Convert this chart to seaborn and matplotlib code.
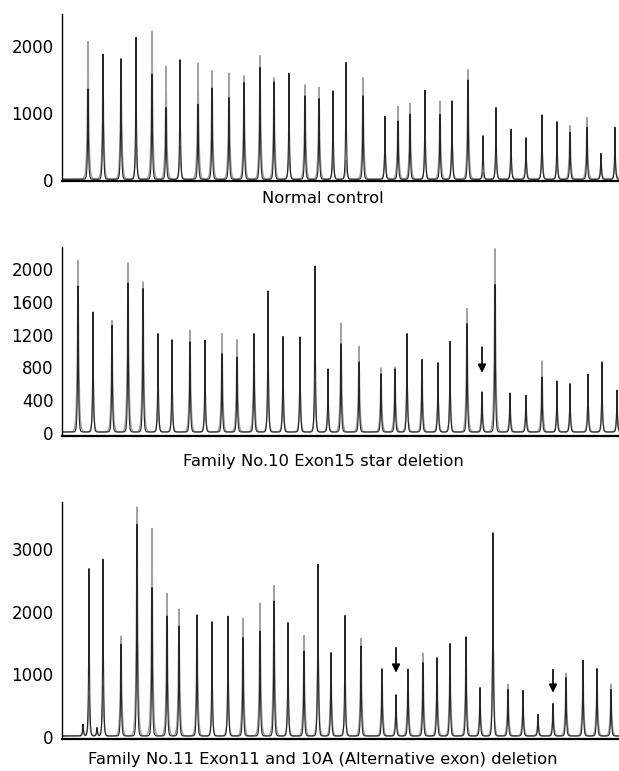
import numpy as np
import pandas as pd
import matplotlib
matplotlib.use("Agg")
import matplotlib.pyplot as plt
import seaborn as sns

# peak positions (size axis, arbitrary units) and peak heights for both traces
pos_normal = [88, 103, 121, 136, 152, 166, 180, 198, 212, 229, 244, 260, 274, 289, 305, 319,
              333, 346, 363, 385, 398, 410, 425, 440, 452, 468, 483, 496, 511, 526, 542, 557,
              570, 587, 601, 615]
black_normal = [1350, 1870, 1800, 2120, 1570, 1070, 1785, 1120, 1360, 1220, 1445, 1670, 1455, 1585, 1245, 1205,
                1320, 1745, 1245, 940, 870, 970, 1330, 970, 1170, 1480, 650, 1070, 750, 620, 960, 860,
                700, 775, 385, 775]
grey_normal = [2055, 1580, 1780, 700, 2210, 1685, 500, 1735, 1620, 1585, 1545, 1845, 1515, 500, 1410, 1370,
               400, 280, 1515, 475, 1085, 1135, 600, 1165, 720, 1635, 100, 425, 350, 375, 475, 300,
               800, 920, 300, 350]

pos_fam10 = [78, 93, 112, 128, 143, 158, 172, 190, 205, 222, 237, 254, 268, 283, 300, 315,
             328, 341, 359, 381, 395, 407, 422, 438, 450, 467, 482, 495, 510, 526, 542, 557,
             570, 588, 602, 617]
black_fam10 = [1780, 1463, 1300, 1817, 1750, 1200, 1125, 1100, 1120, 955, 915, 1200, 1720, 1165, 1160, 2025,
               770, 1077, 855, 710, 770, 1200, 885, 845, 1105, 1320, 490, 1800, 475, 447, 670, 622,
               590, 705, 855, 510]
grey_fam10 = [2090, 570, 1360, 2060, 1830, 450, 365, 1240, 400, 1200, 1125, 1100, 690, 510, 570, 590,
              325, 1330, 1045, 780, 790, 710, 855, 530, 530, 1505, 470, 2235, 405, 385, 865, 325,
              325, 405, 405, 325]

pos_fam11 = [83, 89, 97, 103, 121, 137, 152, 167, 179, 197, 212, 228, 243, 260, 274, 288, 304,
             318, 331, 345, 361, 382, 396, 408, 423, 437, 450, 466, 480, 493, 508, 523, 538,
             553, 566, 583, 597, 611]
black_fam11 = [190, 2680, 135, 2830, 1470, 3390, 2375, 1920, 1760, 1940, 1830, 1920, 1575, 1680, 2160, 1815, 1360,
               2750, 1335, 1930, 1440, 1070, 660, 1070, 1175, 1255, 1480, 1590, 775, 3255, 745, 730, 345,
               520, 935, 1215, 1080, 745]
grey_fam11 = [150, 640, 120, 800, 1600, 3667, 3325, 2280, 2030, 1900, 590, 900, 1880, 2125, 2410, 720, 1610,
              1630, 1100, 695, 1560, 1085, 535, 1015, 1320, 1120, 1280, 1495, 695, 1840, 830, 590, 295,
              500, 1005, 1070, 1015, 830]

# deletion arrows: x position, tail value, tip value
arrows_fam10 = [(482, 1080, 700)]
arrows_fam11 = [(396, 1470, 980), (553, 1117, 660)]

panels = [
    ("Normal control", pos_normal, black_normal, grey_normal, [], (-15, 2480),
     [0, 1000, 2000], 500, 0.743),
    ("Family No.10 Exon15 star deletion", pos_fam10, black_fam10, grey_fam10, arrows_fam10, (-37, 2268),
     [0, 400, 800, 1200, 1600, 2000], 200, 0.402),
    ("Family No.11 Exon11 and 10A (Alternative exon) deletion", pos_fam11, black_fam11, grey_fam11,
     arrows_fam11, (-37, 3760), [0, 1000, 2000, 3000], 500, 0.0143),
]
boxes = [[0.1002, 0.7652, 0.8998, 0.2166],
         [0.1002, 0.4345, 0.8998, 0.2451],
         [0.1002, 0.0415, 0.8998, 0.3074]]

sns.set_style("white")
plt.rcParams['font.family'] = ['DejaVu Sans']
plt.rcParams['text.color'] = 'black'
plt.rcParams['ytick.color'] = 'black'

fig = plt.figure(figsize=(6.19, 7.71), dpi=100)
xs = np.arange(62, 620, 0.05)


def trace(pos, heights, width, base):
    # sharp-topped peaks with wider skirts, like an electropherogram
    y = np.full_like(xs, base)
    for p, h in zip(pos, heights):
        y = y + h * np.exp(-np.abs(xs - p) / width)
    return y


for (label, pos, blk, gry, arrows, ylim, yticks, minor, ty), box in zip(panels, boxes):
    ax = fig.add_axes(box)
    df = pd.DataFrame({"x": xs,
                       "grey": trace(pos, gry, 0.9, 12),
                       "black": trace(pos, blk, 0.55, 12)})
    sns.lineplot(data=df, x="x", y="grey", ax=ax, color="#a2a2a2", lw=1.1, estimator=None)
    sns.lineplot(data=df, x="x", y="black", ax=ax, color="#262626", lw=0.8, estimator=None)
    for xa, tail, tip in arrows:
        ax.annotate("", xy=(xa, tip), xytext=(xa, tail),
                    arrowprops=dict(arrowstyle="-|>", color="black", lw=1.2, mutation_scale=12))
    ax.set_xlim(62, 619)
    ax.set_ylim(*ylim)
    ax.set_yticks(yticks)
    ax.set_yticks(np.arange(0, ylim[1], minor), minor=True)
    ax.set_yticklabels([str(t) for t in yticks], fontsize=12, color="black")
    ax.set_xticks(pos if label != panels[2][0] else [])
    ax.set_xticklabels([])
    ax.tick_params(axis="y", which="both", direction="in", length=5, width=1, color="black", pad=6)
    ax.tick_params(axis="x", direction="out", length=3, width=0.8, color="black")
    ax.set_xlabel("")
    ax.set_ylabel("")
    sns.despine(ax=ax)
    ax.spines["left"].set_color("black")
    ax.spines["left"].set_linewidth(1.0)
    ax.spines["bottom"].set_color("black")
    ax.spines["bottom"].set_linewidth(1.6)
    fig.text(0.522, ty, label, ha="center", va="center", fontsize=11.8, color="black")

fig.savefig("out.png", dpi=100)
